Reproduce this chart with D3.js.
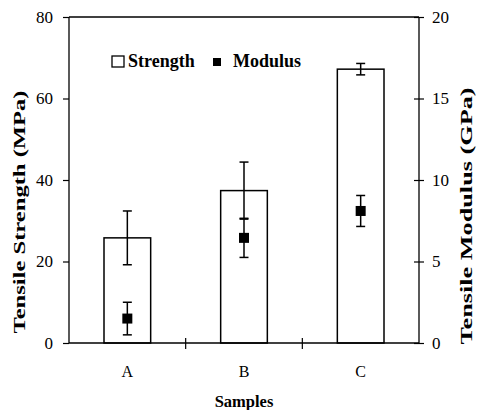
<!DOCTYPE html>
<html>
<head>
<meta charset="utf-8"/>
<script src="https://d3js.org/d3.v7.min.js"></script>
<style>
  body { margin: 0; background: #fff; }
  text { font-family: "Liberation Serif", "Times New Roman", serif; fill: #000; }
</style>
</head>
<body>
<div id="chart"></div>
<script>
    // data
    var samples = ["A", "B", "C"];
    var strength = [25.8, 37.4, 67.2];
    var strengthErr = [6.6, 7.0, 1.4];
    var modulus = [1.5, 6.45, 8.1];
    var modulusErr = [1.0, 1.2, 0.95];
    var strengthTicks = [0, 20, 40, 60, 80];
    var modulusTicks = [0, 5, 10, 15, 20];

    var W = 477, H = 410;
    var margin = {top: 17, right: 58, bottom: 67, left: 69};
    var width = W - margin.left - margin.right,
        height = H - margin.top - margin.bottom;

    var svg = d3.select("#chart").append("svg")
        .attr("width", W).attr("height", H)
        .append("g")
        .attr("transform", "translate(" + margin.left + "," + margin.top + ")");

    var x = d3.scaleBand().domain(samples).range([0, width])
        .paddingInner(0.6).paddingOuter(0.3);
    var xb = d3.scaleBand().domain(samples).range([0, width]);
    var y = d3.scaleLinear().domain([0, 80]).range([height, 0]);
    var y2 = d3.scaleLinear().domain([0, 20]).range([height, 0]);

    // top frame line
    svg.append("line").attr("x1", 0).attr("x2", width).attr("y1", 0).attr("y2", 0)
        .attr("stroke", "#000").attr("stroke-width", 1.3);

    // left axis
    var gl = svg.append("g")
        .call(d3.axisLeft(y).tickValues(strengthTicks).tickSize(6).tickPadding(10));
    gl.select(".domain").attr("stroke-width", 1.3).attr("d", "M0,0V" + height);
    gl.selectAll(".tick line").attr("x1", -6).attr("x2", 0).attr("stroke-width", 1.2);
    gl.selectAll("text").style("font-size", "17px");

    // right axis
    var gr = svg.append("g").attr("transform", "translate(" + width + ",0)")
        .call(d3.axisRight(y2).tickValues(modulusTicks).tickSize(5).tickPadding(8));
    gr.select(".domain").attr("stroke-width", 1.3).attr("d", "M0,0V" + height);
    gr.selectAll(".tick line").attr("x1", -5).attr("x2", 5).attr("stroke-width", 1.2);
    gr.selectAll("text").style("font-size", "17px");

    // bars
    svg.selectAll(".bar").data(samples).enter().append("rect")
        .attr("x", function(d) { return x(d); })
        .attr("y", function(d, i) { return y(strength[i]); })
        .attr("width", x.bandwidth())
        .attr("height", function(d, i) { return height - y(strength[i]); })
        .attr("fill", "#fff").attr("stroke", "#000").attr("stroke-width", 1.5);

    // bottom axis
    var gb = svg.append("g").attr("transform", "translate(0," + height + ")");
    gb.append("line").attr("x1", 0).attr("x2", width)
        .attr("stroke", "#000").attr("stroke-width", 1.3);
    gb.selectAll(".sep").data(samples.slice(1)).enter().append("line")
        .attr("x1", function(d) { return xb(d); }).attr("x2", function(d) { return xb(d); })
        .attr("y1", -5).attr("y2", 6).attr("stroke", "#000").attr("stroke-width", 1.2);
    gb.selectAll(".lab").data(samples).enter().append("text")
        .attr("x", function(d) { return x(d) + x.bandwidth() / 2; })
        .attr("y", 34).attr("text-anchor", "middle")
        .style("font-size", "16px").text(function(d) { return d; });

    function errBar(cx, v, e, sc) {
        var g = svg.append("g").attr("stroke", "#000").attr("stroke-width", 1.5);
        g.append("line").attr("x1", cx).attr("x2", cx).attr("y1", sc(v - e)).attr("y2", sc(v + e));
        [v - e, v + e].forEach(function(t) {
            g.append("line").attr("x1", cx - 4.5).attr("x2", cx + 4.5)
                .attr("y1", sc(t)).attr("y2", sc(t));
        });
    }

    samples.forEach(function(d, i) {
        var cx = x(d) + x.bandwidth() / 2;
        errBar(cx, strength[i], strengthErr[i], y);
        errBar(cx, modulus[i], modulusErr[i], y2);
        svg.append("rect").attr("x", cx - 5).attr("y", y2(modulus[i]) - 5)
            .attr("width", 10).attr("height", 10).attr("fill", "#000");
    });

    // legend
    var lg = svg.append("g").attr("transform", "translate(" + 43 + "," + 39 + ")");
    lg.append("rect").attr("x", 0).attr("y", 0).attr("width", 12).attr("height", 11)
        .attr("fill", "#fff").attr("stroke", "#000").attr("stroke-width", 1.3);
    lg.append("text").attr("x", 16).attr("y", 11).style("font-size", "18px")
        .style("font-weight", "bold").text("Strength");
    lg.append("rect").attr("x", 101).attr("y", 2).attr("width", 8).attr("height", 8)
        .attr("fill", "#000");
    lg.append("text").attr("x", 121).attr("y", 11).style("font-size", "18px")
        .style("font-weight", "bold").text("Modulus");

    // axis titles (stretched along their length like the original)
    svg.append("text")
        .attr("transform", "translate(" + (-44) + "," + 195 + ") rotate(-90)")
        .attr("text-anchor", "middle").style("font-size", "16px").style("font-weight", "bold")
        .attr("textLength", 243).attr("lengthAdjust", "spacingAndGlyphs")
        .text("Tensile Strength (MPa)");
    svg.append("text")
        .attr("transform", "translate(" + (width + 53) + "," + 199 + ") rotate(-90)")
        .attr("text-anchor", "middle").style("font-size", "16px").style("font-weight", "bold")
        .attr("textLength", 257).attr("lengthAdjust", "spacingAndGlyphs")
        .text("Tensile Modulus (GPa)");
    svg.append("text")
        .attr("x", width / 2).attr("y", height + 64).attr("text-anchor", "middle")
        .style("font-size", "16.5px").style("font-weight", "bold").text("Samples");
</script>
</body>
</html>
